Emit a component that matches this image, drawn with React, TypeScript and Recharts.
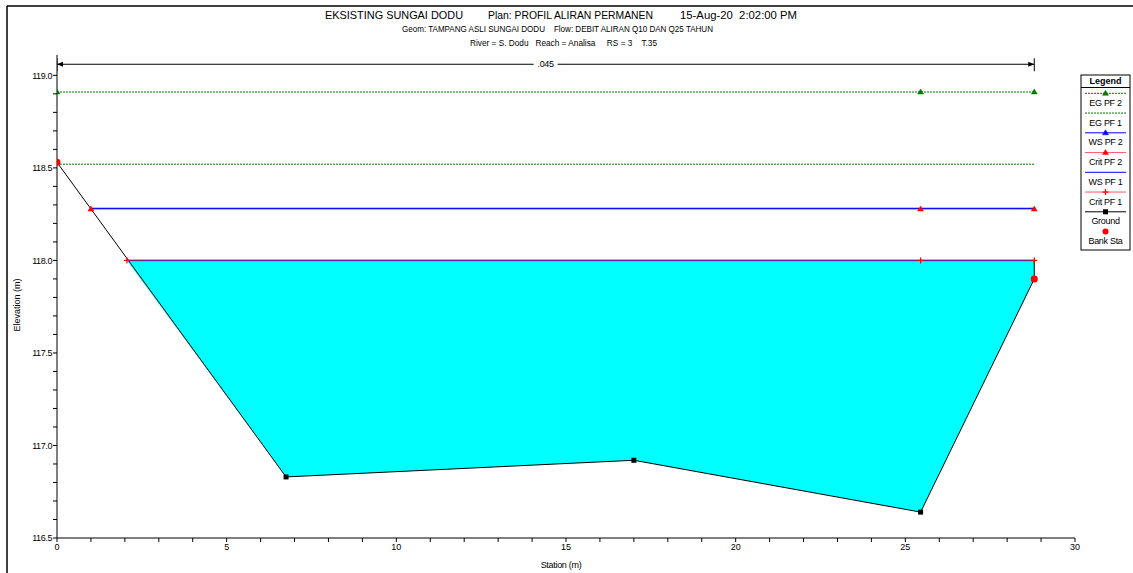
import React from 'react';
import { ComposedChart, Line, Area, XAxis, YAxis, Scatter, ReferenceDot, Customized } from 'recharts';

// ---------- data ----------
const groundStation = [0, 6.75, 17.0, 25.45, 28.8, 28.8];
const groundElev = [118.53, 116.83, 116.92, 116.64, 117.9, 118.0];

const bankStation = [0, 28.8];
const bankElev = [118.53, 117.9];

const egPf2Station = [0, 25.45, 28.8];
const egPf2Elev = 118.91;
const egPf1Station = [0, 28.8];
const egPf1Elev = 118.52;

const wsPf2Station = [1.0, 25.45, 28.8];
const wsPf2Elev = 118.28;
const critPf2Elev = 118.28;

const wsPf1Station = [2.06, 25.45, 28.8];
const wsPf1Elev = 118.0;
const critPf1Elev = 118.0;

const waterStation = [2.06, 6.75, 17.0, 25.45, 28.8];
const waterBed = [118.0, 116.83, 116.92, 116.64, 117.9];

const manningLabel = '.045';
const manningStation = [0, 28.8];
const manningDir = [-1, 1];
const manningElev = 119.06;
const manningMid = 14.4;

const xTicks = [0, 1, 2, 3, 4, 5, 6, 7, 8, 9, 10, 11, 12, 13, 14, 15, 16, 17, 18, 19, 20, 21, 22, 23, 24, 25, 26, 27, 28, 29, 30];
const xMajor = [0, 5, 10, 15, 20, 25, 30];
const yTicks = [116.5, 116.6, 116.7, 116.8, 116.9, 117.0, 117.1, 117.2, 117.3, 117.4, 117.5, 117.6, 117.7, 117.8, 117.9, 118.0, 118.1, 118.2, 118.3, 118.4, 118.5, 118.6, 118.7, 118.8, 118.9, 119.0];
const yMajor = ['116.5', '117.0', '117.5', '118.0', '118.5', '119.0'];

const titleMain = 'EKSISTING SUNGAI DODU';
const titlePlan = 'Plan: PROFIL ALIRAN PERMANEN';
const titleDate = '15-Aug-20  2:02:00 PM';
const subtitle1 = 'Geom: TAMPANG ASLI SUNGAI DODU    Flow: DEBIT ALIRAN Q10 DAN Q25 TAHUN';
const subtitle2 = 'River = S. Dodu   Reach = Analisa     RS = 3    T.35';
const xLabel = 'Station (m)';
const yLabel = 'Elevation (m)';
const legendTitle = 'Legend';
const legendNames = ['EG PF 2', 'EG PF 1', 'WS PF 2', 'Crit PF 2', 'WS PF 1', 'Crit PF 1', 'Ground', 'Bank Sta'];

// ---------- built tables ----------
const groundData = groundStation.map((x, i) => ({ x, y: groundElev[i] }));
const bankData = bankStation.map((x, i) => ({ x, y: bankElev[i] }));
const egPf2Data = egPf2Station.map((x) => ({ x, y: egPf2Elev }));
const egPf1Data = egPf1Station.map((x) => ({ x, y: egPf1Elev }));
const wsPf2Data = wsPf2Station.map((x) => ({ x, y: wsPf2Elev }));
const critPf2Data = wsPf2Station.map((x) => ({ x, y: critPf2Elev }));
const wsPf1Data = wsPf1Station.map((x) => ({ x, y: wsPf1Elev }));
const critPf1Data = wsPf1Station.map((x) => ({ x, y: critPf1Elev }));
const waterData = waterStation.map((x, i) => ({ x, range: [waterBed[i], wsPf1Elev] }));
const manningData = manningStation.map((x, i) => ({ x, y: manningElev, dir: manningDir[i] }));

const FONT = '"Liberation Sans", Arial, sans-serif';
const GREEN = '#007a00';
const BLUE = '#0000FF';
const RED = '#FF0000';
const PINK = '#FF5A6E';
const PRE = { whiteSpace: 'pre' as const };

const tri = (cx: number, cy: number, color: string, key?: any) => (
  <polygon key={key} points={`${cx},${cy - 3} ${cx - 3},${cy + 2} ${cx + 3},${cy + 2}`} fill={color} stroke={color} strokeWidth={0.5} />
);
const plus = (cx: number, cy: number, color: string, key?: any) => (
  <g key={key}>
    <line x1={cx - 3} y1={cy} x2={cx + 3} y2={cy} stroke={color} strokeWidth={1.2} />
    <line x1={cx} y1={cy - 3} x2={cx} y2={cy + 3} stroke={color} strokeWidth={1.2} />
  </g>
);
const square = (cx: number, cy: number, key?: any) => (
  <rect key={key} x={cx - 2.5} y={cy - 2.5} width={5} height={5} fill="#000" />
);

const Overlay = () => {
  const lx = 1081;
  const lw = 49;
  const items = [
    { color: GREEN, dash: '2 1', marker: 'tri' },
    { color: GREEN, dash: '2 1', marker: '' },
    { color: BLUE, dash: '', marker: 'tri' },
    { color: PINK, dash: '', marker: 'tri' },
    { color: BLUE, dash: '', marker: '' },
    { color: PINK, dash: '', marker: 'plus' },
    { color: '#000', dash: '', marker: 'sq' },
    { color: RED, dash: '', marker: 'dot' },
  ];
  return (
    <g style={{ fontFamily: FONT }}>
      {/* frame */}
      <line x1={7} y1={6} x2={1133} y2={6} stroke="#000" strokeWidth={1.5} />
      <line x1={7} y1={6} x2={7} y2={573} stroke="#000" strokeWidth={1.5} />
      {/* titles */}
      <text x={325} y={19} fontSize={11.5} textLength={138} lengthAdjust="spacingAndGlyphs" fill="#000" style={PRE}>{titleMain}</text>
      <text x={488} y={19} fontSize={11.5} textLength={165} lengthAdjust="spacingAndGlyphs" fill="#000" style={PRE}>{titlePlan}</text>
      <text x={680} y={19} fontSize={11.5} textLength={117} lengthAdjust="spacingAndGlyphs" fill="#000" style={PRE}>{titleDate}</text>
      <text x={402} y={31.5} fontSize={8.5} textLength={311} lengthAdjust="spacingAndGlyphs" fill="#000" style={PRE}>{subtitle1}</text>
      <text x={470} y={45.5} fontSize={8.5} textLength={187} lengthAdjust="spacingAndGlyphs" fill="#000" style={PRE}>{subtitle2}</text>
      {/* axis labels */}
      <text x={561} y={568} fontSize={9} textAnchor="middle" fill="#000" letterSpacing={-0.3}>{xLabel}</text>
      <text x={20} y={305} fontSize={9} textAnchor="middle" fill="#000" transform="rotate(-90 20 305)">{yLabel}</text>
      {/* legend */}
      <rect x={lx} y={75} width={lw} height={175} fill="#fff" stroke="#000" strokeWidth={1} />
      <text x={lx + lw / 2} y={84} fontSize={9} fontWeight="bold" textAnchor="middle" fill="#000">{legendTitle}</text>
      <line x1={lx} y1={87.5} x2={lx + lw} y2={87.5} stroke="#000" strokeWidth={1} />
      {legendNames.map((name, i) => {
        const it = items[i];
        const ly = 93.3 + i * 19.75;
        const cx = lx + lw / 2;
        return (
          <g key={name}>
            {it.marker !== 'dot' && (
              <line x1={lx + 4} y1={ly} x2={lx + lw - 4} y2={ly} stroke={it.color} strokeWidth={1} strokeDasharray={it.dash || undefined} />
            )}
            {it.marker === 'tri' && tri(cx, ly, it.color === PINK ? RED : it.color)}
            {it.marker === 'plus' && plus(cx, ly, RED)}
            {it.marker === 'sq' && square(cx, ly)}
            {it.marker === 'dot' && <circle cx={cx} cy={ly} r={3} fill={RED} />}
            <text x={cx} y={ly + 12.5} fontSize={9} textAnchor="middle" fill="#000" letterSpacing={-0.3}>{name}</text>
          </g>
        );
      })}
    </g>
  );
};

const ManningLabel = (p: any) => (
  <g>
    <rect x={p.cx - 12} y={p.cy - 5} width={24} height={10} fill="#fff" />
    <text x={p.cx} y={p.cy + 3} fontSize={9} textAnchor="middle" fill="#000" style={{ fontFamily: FONT }} letterSpacing={-0.3}>{manningLabel}</text>
  </g>
);

const ManningEnd = (p: any) => {
  const { cx, cy, payload, index } = p;
  const d = payload.dir;
  return (
    <g key={`me${index}`}>
      <polygon points={`${cx},${cy} ${cx - d * 6},${cy - 2.5} ${cx - d * 6},${cy + 2.5}`} fill="#000" />
      <line x1={cx} y1={cy - 6} x2={cx} y2={cy + 7} stroke="#000" strokeWidth={1} />
    </g>
  );
};

const yFmt = (v: number) => {
  const s = v.toFixed(1);
  return yMajor.includes(s) ? s : '';
};
const xFmt = (v: number) => (xMajor.includes(v) ? String(v) : '');

export default function App() {
  return (
    <div style={{ position: 'absolute', left: 0, top: 0, width: 1133, height: 573, background: '#fff' }}>
      <ComposedChart width={1133} height={573} margin={{ top: 55, right: 58, bottom: 15, left: 0 }}>
        <XAxis
          type="number"
          dataKey="x"
          domain={[0, 30]}
          ticks={xTicks}
          tickFormatter={xFmt}
          interval={0}
          allowDataOverflow
          height={20}
          tickSize={4}
          tickMargin={2}
          axisLine={{ stroke: '#000' }}
          tickLine={{ stroke: '#000' }}
          tick={{ fontSize: 9, fill: '#000', fontFamily: FONT }}
        />
        <YAxis
          type="number"
          dataKey="y"
          domain={[116.5, 119.11]}
          ticks={yTicks}
          tickFormatter={yFmt}
          interval={0}
          allowDataOverflow
          width={57}
          tickSize={4}
          tickMargin={1}
          axisLine={{ stroke: '#000' }}
          tickLine={{ stroke: '#000' }}
          tick={{ fontSize: 9, fill: '#000', fontFamily: FONT, letterSpacing: -0.4 }}
        />
        <Area
          data={waterData}
          dataKey="range"
          type="linear"
          fill="#00FFFF"
          fillOpacity={1}
          stroke="none"
          isAnimationActive={false}
        />
        <Line data={egPf1Data} dataKey="y" type="linear" stroke={GREEN} strokeWidth={1} strokeDasharray="2 1" dot={false} activeDot={false} isAnimationActive={false} />
        <Line data={egPf2Data} dataKey="y" type="linear" stroke={GREEN} strokeWidth={1} strokeDasharray="2 1" dot={(p: any) => tri(p.cx, p.cy, GREEN, `eg${p.index}`)} activeDot={false} isAnimationActive={false} />
        <Line data={critPf2Data} dataKey="y" type="linear" stroke={PINK} strokeWidth={2} dot={false} activeDot={false} isAnimationActive={false} />
        <Line data={wsPf2Data} dataKey="y" type="linear" stroke={BLUE} strokeWidth={1} dot={(p: any) => tri(p.cx, p.cy + 0.5, RED, `ws2${p.index}`)} activeDot={false} isAnimationActive={false} />
        <Line data={critPf1Data} dataKey="y" type="linear" stroke={PINK} strokeWidth={2} dot={false} activeDot={false} isAnimationActive={false} />
        <Line data={wsPf1Data} dataKey="y" type="linear" stroke="#5a1a8a" strokeWidth={1} dot={(p: any) => plus(p.cx, p.cy, RED, `ws1${p.index}`)} activeDot={false} isAnimationActive={false} />
        <Line
          data={groundData}
          dataKey="y"
          type="linear"
          stroke="#000"
          strokeWidth={1}
          dot={(p: any) => (p.index < groundData.length - 1 ? square(p.cx, p.cy, `g${p.index}`) : <g key={`g${p.index}`} />)}
          activeDot={false}
          isAnimationActive={false}
        />
        <Scatter
          data={bankData}
          dataKey="y"
          fill={RED}
          shape={(p: any) => <circle cx={p.cx} cy={p.cy} r={3.5} fill={RED} />}
          isAnimationActive={false}
        />
        <Line data={manningData} dataKey="y" type="linear" stroke="#000" strokeWidth={1} dot={ManningEnd} activeDot={false} isAnimationActive={false} />
        <ReferenceDot x={manningMid} y={manningElev} r={0} shape={ManningLabel} ifOverflow="visible" />
        <Customized component={Overlay} />
      </ComposedChart>
    </div>
  );
}
